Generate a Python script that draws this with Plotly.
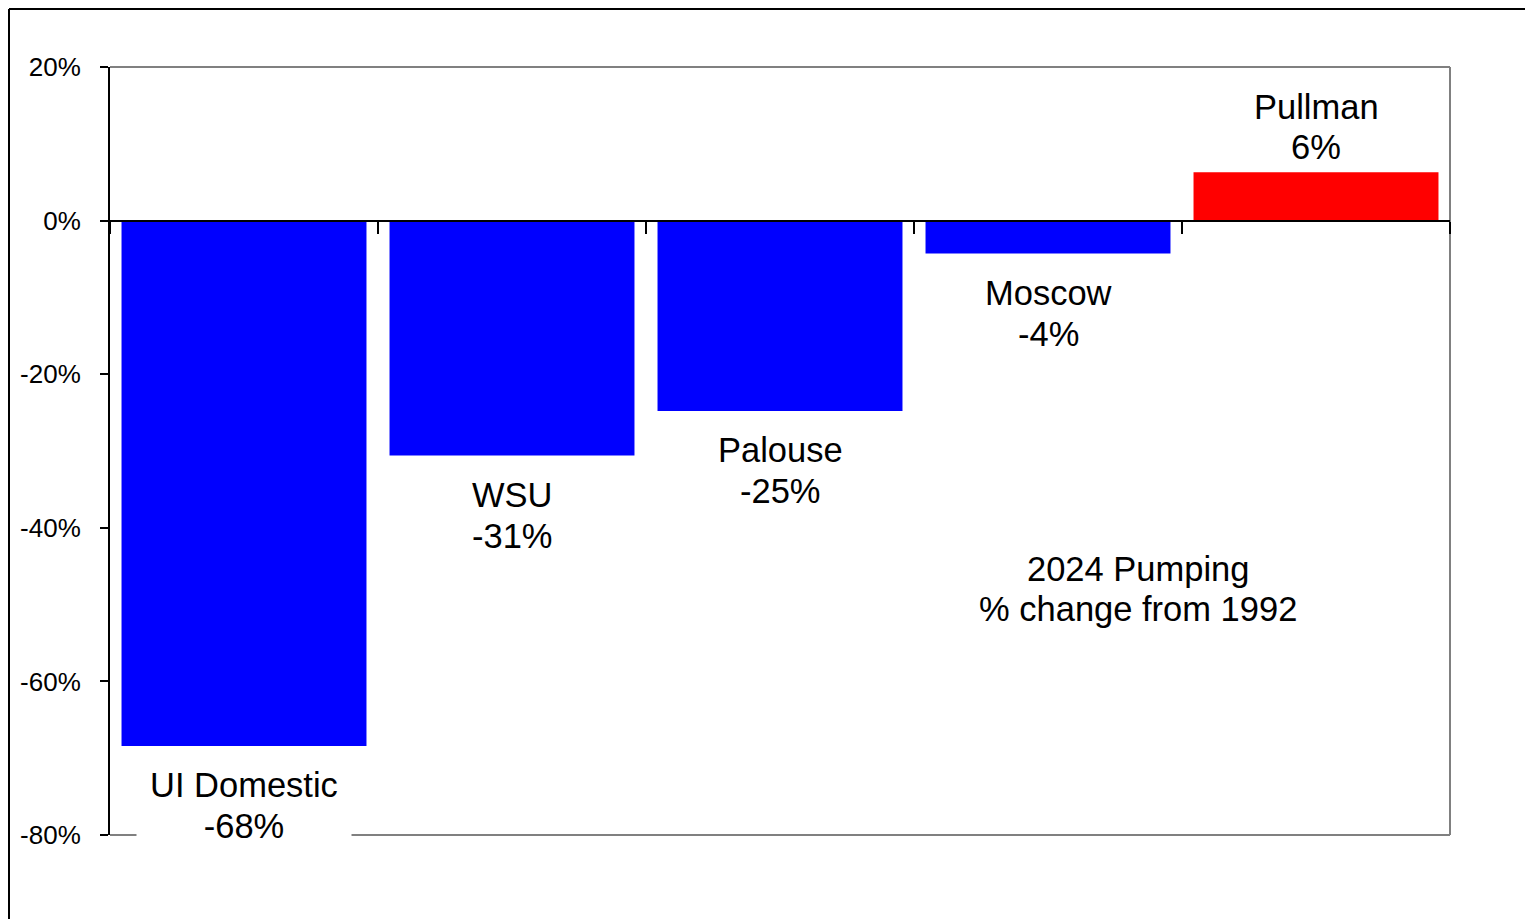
import plotly.graph_objects as go

categories = ["UI Domestic", "WSU", "Palouse", "Moscow", "Pullman"]
values = [-68.4, -30.6, -24.8, -4.3, 6.3]
colors = ["#0000FF", "#0000FF", "#0000FF", "#0000FF", "#FF0000"]
y_ticks = [-80, -60, -40, -20, 0, 20]
y_tick_text = ["-80%", "-60%", "-40%", "-20%", "0%", "20%"]
note_lines = ["2024 Pumping", "% change from 1992"]

FONT = "Liberation Sans, Arial, sans-serif"
LABEL_SIZE = 34.5

# page body has an 8px margin; lay out in reference coordinates and shift
OFF = 8
FIG_W, FIG_H = 1533 - OFF, 919 - OFF
L, R = 110, 1450   # plot area edges (reference page coords)
T, B = 67, 835
W = R - L
H = B - T


def px(xp):
    return (xp - L) / W


def py(yp):
    return (B - yp) / H


fig = go.Figure()
fig.add_trace(go.Bar(
    x=categories, y=values,
    marker=dict(color=colors, line=dict(width=0)),
    hoverinfo="skip",
))

for cat, v in zip(categories, values):
    name_txt = cat
    val_txt = f"{round(v):d}%"
    if v < 0:
        s_name, s_val = -39, -80
    else:
        s_name, s_val = 65, 25
    fig.add_annotation(
        x=cat, y=v, xref="x", yref="y", text=name_txt, showarrow=False,
        yanchor="middle", yshift=s_name, borderpad=0,
        font=dict(family=FONT, size=LABEL_SIZE, color="black"),
    )
    extra = {}
    if cat == "UI Domestic":
        extra = dict(bgcolor="white", width=214, height=30)
    fig.add_annotation(
        x=cat, y=v, xref="x", yref="y", text=val_txt, showarrow=False,
        yanchor="middle", yshift=s_val, borderpad=0,
        font=dict(family=FONT, size=LABEL_SIZE, color="black"),
        **extra,
    )

for line, yp in zip(note_lines, [569, 609]):
    fig.add_annotation(
        x=px(1138), y=py(yp), xref="paper", yref="paper", text=line,
        showarrow=False, xanchor="center", yanchor="middle",
        font=dict(family=FONT, size=LABEL_SIZE, color="black"),
    )

# plot frame (gray) top, right, bottom
for (x0, x1, y0, y1) in [(0, 1, 1, 1), (1, 1, 0, 1), (0, 1, 0, 0)]:
    fig.add_shape(type="line", xref="paper", yref="paper", x0=x0, x1=x1, y0=y0, y1=y1,
                  line=dict(color="#808080", width=2), layer="below")

# outer chart border
fig.add_shape(type="line", xref="paper", yref="paper", x0=px(9), x1=px(9), y0=py(9), y1=py(940),
              line=dict(color="black", width=2))
fig.add_shape(type="line", xref="paper", yref="paper", x0=px(9), x1=px(1545), y0=py(9), y1=py(9),
              line=dict(color="black", width=2))
fig.add_shape(type="line", xref="paper", yref="paper", x0=px(1532), x1=px(1532), y0=py(9), y1=py(940),
              line=dict(color="#AAAAAA", width=1))

fig.update_layout(
    width=FIG_W, height=FIG_H,
    margin=dict(l=L - OFF, r=FIG_W - (R - OFF), t=T - OFF, b=FIG_H - (B - OFF),
                pad=0, autoexpand=False),
    paper_bgcolor="white", plot_bgcolor="white",
    showlegend=False, bargap=0.086,
    font=dict(family=FONT, color="black"),
    xaxis=dict(
        type="category", range=[-0.5, 4.5], automargin=False,
        showgrid=False, zeroline=False,
        showline=True, linecolor="black", linewidth=2,
        anchor="free", position=0.8,
        ticks="outside", tickson="boundaries", ticklen=12, tickwidth=2, tickcolor="black",
        showticklabels=False,
    ),
    yaxis=dict(
        range=[-80, 20], tickmode="array", tickvals=y_ticks, ticktext=y_tick_text,
        automargin=False,
        showgrid=False, zeroline=False,
        showline=True, linecolor="black", linewidth=2,
        ticks="outside", ticklen=8, tickwidth=2, tickcolor="black",
        ticklabelstandoff=14,
        tickfont=dict(family=FONT, size=26, color="black"),
    ),
)

fig.write_html("out.html")
